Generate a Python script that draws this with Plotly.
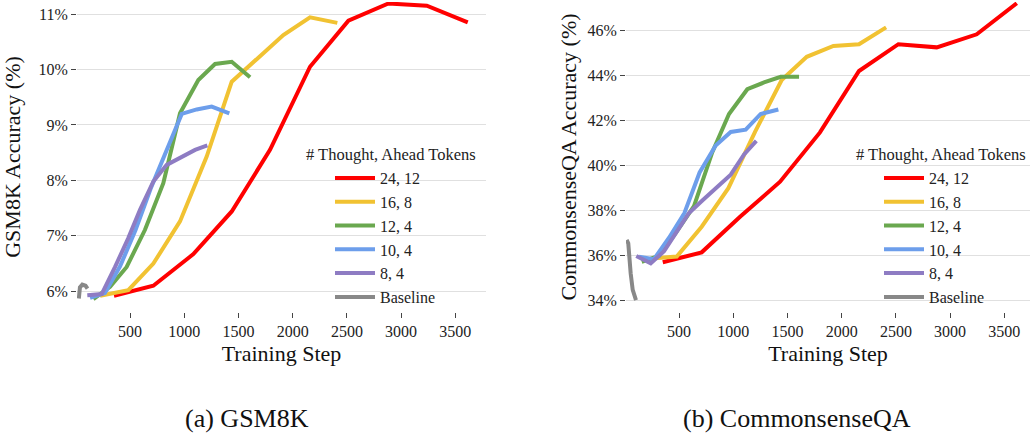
import plotly.graph_objects as go

W, H = 1030, 434
FONT = "Liberation Serif"

series_names = ["24, 12", "16, 8", "12, 4", "10, 4", "8, 4", "Baseline"]
series_colors = ["#ff0000", "#f1c232", "#6aa84f", "#6d9eeb", "#8e7cc3", "#888888"]
legend_title = "# Thought, Ahead Tokens"

# GSM8K (left)
gsm_red_x = [352, 715, 1084, 1438, 1791, 2160, 2514, 2883, 3237, 3615]
gsm_red_y = [5.92, 6.10, 6.67, 7.44, 8.55, 10.05, 10.88, 11.19, 11.15, 10.85]
gsm_yellow_x = [224, 484, 715, 961, 1207, 1438, 1676, 1914, 2160, 2412]
gsm_yellow_y = [5.92, 6.02, 6.50, 7.26, 8.43, 9.78, 10.20, 10.62, 10.94, 10.84]
gsm_green_x = [162, 316, 469, 638, 807, 961, 1130, 1284, 1438, 1607]
gsm_green_y = [5.86, 6.08, 6.44, 7.11, 7.95, 9.21, 9.81, 10.10, 10.14, 9.86]
gsm_blue_x = [131, 268, 408, 550, 690, 838, 977, 1115, 1253, 1416]
gsm_blue_y = [5.88, 5.97, 6.45, 7.10, 7.85, 8.55, 9.20, 9.28, 9.33, 9.21]
gsm_purple_x = [106, 239, 362, 484, 592, 715, 838, 977, 1100, 1213]
gsm_purple_y = [5.93, 5.95, 6.44, 6.96, 7.47, 7.98, 8.28, 8.43, 8.55, 8.63]
gsm_gray_x = [28, 38, 60, 90, 108]
gsm_gray_y = [5.87, 6.07, 6.12, 6.10, 6.05]

# CommonsenseQA (right)
csq_red_x = [350, 709, 1063, 1432, 1800, 2160, 2523, 2877, 3246, 3615]
csq_red_y = [35.71, 36.15, 37.73, 39.29, 41.48, 44.21, 45.40, 45.26, 45.84, 47.22]
csq_yellow_x = [248, 479, 709, 955, 1201, 1447, 1678, 1924, 2160, 2410]
csq_yellow_y = [35.88, 35.96, 37.29, 39.00, 41.50, 43.81, 44.84, 45.32, 45.40, 46.15]
csq_green_x = [156, 316, 469, 638, 807, 961, 1130, 1284, 1438, 1607]
csq_green_y = [35.73, 36.00, 37.00, 38.20, 40.60, 42.30, 43.40, 43.70, 43.95, 43.95]
csq_blue_x = [131, 268, 408, 550, 690, 838, 977, 1115, 1253, 1416]
csq_blue_y = [35.96, 35.84, 36.80, 37.90, 39.70, 40.90, 41.50, 41.60, 42.30, 42.50]
csq_purple_x = [106, 239, 362, 484, 592, 715, 838, 977, 1100, 1213]
csq_purple_y = [35.99, 35.66, 36.20, 37.10, 37.90, 38.45, 39.00, 39.60, 40.50, 41.10]
csq_gray_x = [17, 32, 54, 73, 103]
csq_gray_y = [36.70, 36.55, 35.22, 34.48, 34.03]

x_ticks = [500, 1000, 1500, 2000, 2500, 3000, 3500]
gsm_y_ticks = [6, 7, 8, 9, 10, 11]
csq_y_ticks = [34, 36, 38, 40, 42, 44, 46]

gsm_series = [(gsm_red_x, gsm_red_y), (gsm_yellow_x, gsm_yellow_y), (gsm_green_x, gsm_green_y),
              (gsm_blue_x, gsm_blue_y), (gsm_purple_x, gsm_purple_y), (gsm_gray_x, gsm_gray_y)]
csq_series = [(csq_red_x, csq_red_y), (csq_yellow_x, csq_yellow_y), (csq_green_x, csq_green_y),
              (csq_blue_x, csq_blue_y), (csq_purple_x, csq_purple_y), (csq_gray_x, csq_gray_y)]

fig = go.Figure()
for i, (xs, ys) in enumerate(gsm_series):
    fig.add_trace(go.Scatter(x=xs, y=ys, mode="lines", name=series_names[i],
                             line=dict(color=series_colors[i], width=4),
                             xaxis="x", yaxis="y", legend="legend",
                             legendrank=i + 1, hoverinfo="skip"))
for i, (xs, ys) in enumerate(csq_series):
    fig.add_trace(go.Scatter(x=xs, y=ys, mode="lines", name=series_names[i],
                             line=dict(color=series_colors[i], width=4),
                             xaxis="x2", yaxis="y2", legend="legend2",
                             legendrank=i + 1, hoverinfo="skip"))


def px_x(p):
    return p / W


def px_y(p):
    return 1 - p / H


ydom = [px_y(312), px_y(2)]
grid_col = "#e0e0e0"
tick_font = dict(family=FONT, size=16, color="#222")
title_font = dict(family=FONT, size=22, color="#111")
leg_font = dict(family=FONT, size=16, color="#222")
leg_title_font = dict(family=FONT, size=16.5, color="#222")

common_x = dict(showgrid=False, zeroline=False, showline=False, ticks="outside", ticklen=5,
                tickwidth=1, tickcolor="#444", tickvals=x_ticks, tickfont=tick_font,
                automargin=False)
common_y = dict(showgrid=True, gridcolor=grid_col, gridwidth=1, zeroline=False, showline=False,
                ticks="outside", ticklen=5, tickwidth=1, tickcolor="#444", tickfont=tick_font,
                automargin=False, domain=ydom)

fig.update_layout(
    width=W, height=H,
    margin=dict(l=0, r=0, t=0, b=0),
    paper_bgcolor="white", plot_bgcolor="white",
    font=dict(family=FONT, color="#222"),
    showlegend=True,
    xaxis=dict(common_x, domain=[px_x(77), px_x(486)], anchor="y", range=[11, 3783],
               title=dict(text="Training Step", font=title_font, standoff=6)),
    yaxis=dict(common_y, tickvals=gsm_y_ticks, ticktext=[f"{v}%" for v in gsm_y_ticks],
               range=[5.627, 11.217], anchor="x",
               title=dict(text="GSM8K Accuracy (%)", font=title_font)),
    xaxis2=dict(common_x, domain=[px_x(626), 1.0], anchor="y2", range=[11, 3737],
                title=dict(text="Training Step", font=title_font, standoff=6)),
    yaxis2=dict(common_y, tickvals=csq_y_ticks, ticktext=[f"{v}%" for v in csq_y_ticks],
                range=[33.498, 47.276], anchor="x2",
                title=dict(text="CommonsenseQA Accuracy (%)", font=title_font, standoff=4)),
    legend=dict(x=px_x(330), y=px_y(161), xanchor="left", yanchor="top",
                bgcolor="rgba(0,0,0,0)", font=leg_font, itemwidth=40,
                traceorder="normal"),
    legend2=dict(x=px_x(879), y=px_y(161), xanchor="left", yanchor="top",
                 bgcolor="rgba(0,0,0,0)", font=leg_font, itemwidth=40,
                 traceorder="normal"),
    annotations=[
        dict(text=legend_title, x=px_x(391), y=px_y(154), xref="paper", yref="paper",
             showarrow=False, font=leg_title_font, xanchor="center", yanchor="middle"),
        dict(text=legend_title, x=px_x(941), y=px_y(154), xref="paper", yref="paper",
             showarrow=False, font=leg_title_font, xanchor="center", yanchor="middle"),
        dict(text="(a) GSM8K", x=px_x(247), y=px_y(418), xref="paper", yref="paper",
             showarrow=False, font=dict(family=FONT, size=26, color="#111"),
             xanchor="center", yanchor="middle"),
        dict(text="(b) CommonsenseQA", x=px_x(797), y=px_y(418), xref="paper", yref="paper",
             showarrow=False, font=dict(family=FONT, size=26, color="#111"),
             xanchor="center", yanchor="middle"),
    ],
)

fig.write_html("out.html", config={"displayModeBar": False},
               post_script="document.body.style.margin='0';document.body.style.padding='0';")
